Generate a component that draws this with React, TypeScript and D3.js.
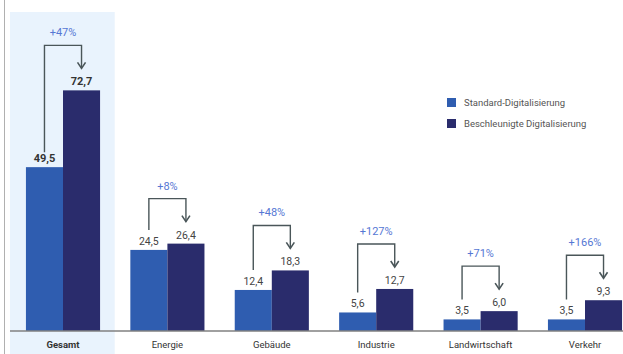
import React from "react";
import * as d3 from "d3";

const categories = ["Gesamt", "Energie", "Gebäude", "Industrie", "Landwirtschaft", "Verkehr"];
const standardValues = [49.5, 24.5, 12.4, 5.6, 3.5, 3.5];
const accelValues = [72.7, 26.4, 18.3, 12.7, 6.0, 9.3];
const increaseLabels = ["+47%", "+8%", "+48%", "+127%", "+71%", "+166%"];
const seriesNames = ["Standard-Digitalisierung", "Beschleunigte Digitalisierung"];

const W = 623;
const H = 354;
const BASE = 331;
const C_STD = "#2f5db0";
const C_ACC = "#2a2c6c";
const C_BRACKET = "#4a5659";
const C_PCT = "#5577d4";
const FONT = "Roboto, 'Open Sans', sans-serif";

const fmt = (v: number) => v.toFixed(1).replace(".", ",");

export default function App() {
  const x = d3
    .scaleBand<string>()
    .domain(categories)
    .range([10.8, 637.2])
    .paddingInner(0.29)
    .paddingOuter(0.145);
  const sub = d3.scaleBand<string>().domain(["s", "a"]).range([0, x.bandwidth()]);
  const y = d3.scaleLinear().domain([0, 80]).range([BASE, BASE - 80 * 3.31]);

  const gx = x("Gesamt")!;
  const step = x.step();

  return (
    <svg
      width={W}
      height={H}
      style={{ position: "absolute", left: 0, top: 0, background: "#fff" }}
      fontFamily={FONT}
    >
      <line x1={4.5} x2={4.5} y1={0} y2={H} stroke="#b0b0b0" strokeWidth={1} />
      <rect x={10} y={12} width={gx + x.bandwidth() / 2 + step / 2 - 10 - 0.5} height={H - 12} fill="#e9f3fd" />

      {categories.map((c, i) => {
        const bx = x(c)!;
        const sx = bx + sub("s")!;
        const ax = bx + sub("a")!;
        const bw = sub.bandwidth();
        const sTop = y(standardValues[i]);
        const aTop = y(accelValues[i]);
        const sc = sx + bw / 2;
        const ac = ax + bw / 2;
        const bold = i === 0;
        const topY = aTop - 45;
        const tipY = aTop - 22;
        const leftEnd = sTop - (bold ? 15 : 20);
        return (
          <g key={c}>
            <rect x={sx} y={sTop} width={bw} height={BASE - sTop} fill={C_STD} />
            <rect x={ax} y={aTop} width={bw} height={BASE - aTop} fill={C_ACC} />
            <text
              x={sc}
              y={sTop - 5}
              textAnchor="middle"
              fontSize={bold ? 11 : 10.5}
              fontWeight={bold ? 700 : 400}
              fill={bold ? "#333" : "#444"}
            >
              {fmt(standardValues[i])}
            </text>
            <text
              x={ac}
              y={aTop - 5}
              textAnchor="middle"
              fontSize={bold ? 11 : 10.5}
              fontWeight={bold ? 700 : 400}
              fill={bold ? "#333" : "#444"}
            >
              {fmt(accelValues[i])}
            </text>
            <path
              d={`M${sc},${leftEnd}V${topY}H${ac}V${tipY}`}
              fill="none"
              stroke={C_BRACKET}
              strokeWidth={1.4}
            />
            <path
              d={`M${ac - 4},${tipY - 6}L${ac},${tipY}L${ac + 4},${tipY - 6}`}
              fill="none"
              stroke={C_BRACKET}
              strokeWidth={1.6}
            />
            <text x={(sc + ac) / 2} y={topY - 9} textAnchor="middle" fontSize={11} fill={C_PCT}>
              {increaseLabels[i]}
            </text>
            <text
              x={bx + x.bandwidth() / 2}
              y={348}
              textAnchor="middle"
              fontSize={9.5}
              fontWeight={bold ? 700 : 400}
              fill="#333"
            >
              {c}
            </text>
          </g>
        );
      })}

      <line x1={10} x2={W} y1={BASE} y2={BASE} stroke="#808080" strokeWidth={1.5} />

      {seriesNames.map((n, i) => (
        <g key={n} transform={`translate(447,${98 + i * 21})`}>
          <rect x={0} y={0} width={9} height={9} fill={i === 0 ? C_STD : C_ACC} />
          <text x={17} y={8} fontSize={9.5} fill="#555">
            {n}
          </text>
        </g>
      ))}
    </svg>
  );
}
